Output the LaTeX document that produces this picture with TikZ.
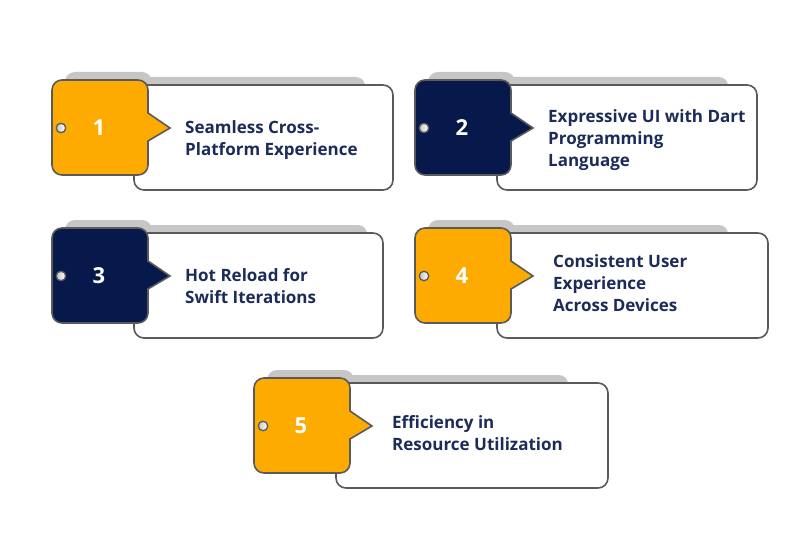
\documentclass[tikz,border=0pt]{standalone}
\usepackage{fontspec}
\setmainfont{Open Sans}
\definecolor{tabOrange}{HTML}{FDAB00}
\definecolor{tabNavy}{HTML}{07184A}
\definecolor{descText}{HTML}{1C2B5A}
\definecolor{edgeGray}{HTML}{5A5A5A}
\definecolor{shadowGray}{HTML}{C6C6C6}
\tikzset{
  whitebox/.style={draw=edgeGray, line width=1.6pt, fill=white, rounded corners=10pt},
  tabbox/.style={draw=edgeGray, line width=1.6pt},
  shadowfill/.style={fill=shadowGray},
  numtext/.style={text=white, font=\fontsize{22}{24}\selectfont\bfseries, inner sep=0pt},
  holec/.style={circle, draw=edgeGray, line width=1.3pt, minimum size=9.5pt, inner sep=0pt, left color=gray!45, right color=white},
  desc/.style={text=descText, font=\fontsize{17}{22}\selectfont\bfseries, align=left, inner sep=0pt},
}
% #1 id, #2 left, #3 top, #4 white right, #5 shadow right, #6 fill, #7 number, #8 text anchor (x,y), #9 text
\newcommand\mycard[9]{%
  \pgfmathsetmacro\cR{#2+96}%
  \pgfmathsetmacro\cB{#3+95}%
  \pgfmathsetmacro\cY{#3+48}%
  \pgfmathsetmacro\wL{#2+82}%
  \pgfmathsetmacro\wT{#3+5}%
  \pgfmathsetmacro\wB{#3+110}%
  \pgfmathsetmacro\sL{#2+13}%
  \pgfmathsetmacro\sR{#2+100}%
  \pgfmathsetmacro\sT{#3-8}%
  \pgfmathsetmacro\sBT{#3-3}%
  \fill[shadowfill, rounded corners=10pt] (\sL,\sT) rectangle (\sR,#3+40);
  \fill[shadowfill, rounded corners=9pt] (\sR-14,\sBT) rectangle (#5,#3+40);
  \draw[whitebox] (\wL,\wT) rectangle (#4,\wB);
  \draw[tabbox, fill=#6] (#2,#3+10) arc[start angle=180,end angle=270,radius=10]
    -- (\cR-10,#3) arc[start angle=270,end angle=360,radius=10]
    -- (\cR,\cY-15) -- (\cR+22,\cY) -- (\cR,\cY+13)
    -- (\cR,\cB-10) arc[start angle=0,end angle=90,radius=10]
    -- (#2+10,\cB) arc[start angle=90,end angle=180,radius=10] -- cycle;
  \node[numtext] (n#1) at (#2+47,\cY) {#7};
  \node[holec] (h#1) at (#2+9,\cY) {};
  \node[desc, anchor=west] (t#1) at (#8) {#9};
}
\begin{document}
\begin{tikzpicture}[x=1pt,y=-1pt]
\useasboundingbox[fill=white] (0,0) rectangle (800,548);
\mycard{1}{52}{80}{393}{365}{tabOrange}{1}{185,140.5}{Seamless Cross-\\Platform Experience}
\mycard{2}{415}{80}{757}{728}{tabNavy}{2}{548,140.5}{Expressive UI with Dart\\Programming\\Language}
\mycard{3}{52}{228}{383}{367}{tabNavy}{3}{185,286.5}{Hot Reload for\\Swift Iterations}
\mycard{4}{415}{228}{768}{728}{tabOrange}{4}{553,283.5}{Consistent User\\Experience\\Across Devices}
\mycard{5}{254}{378}{608}{568}{tabOrange}{5}{392,433.5}{Efficiency in\\Resource Utilization}
\end{tikzpicture}
\end{document}
